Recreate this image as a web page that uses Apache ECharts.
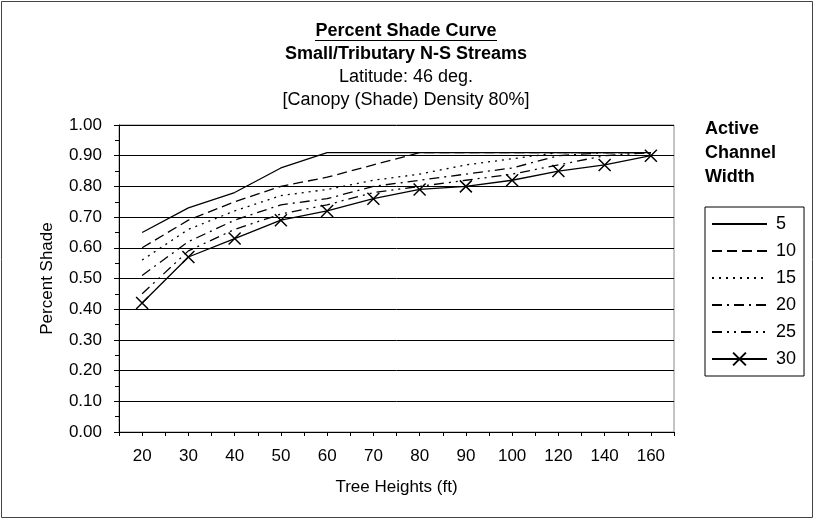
<!DOCTYPE html>
<html>
<head>
<meta charset="utf-8">
<script src="https://cdn.jsdelivr.net/npm/echarts@6/dist/echarts.min.js"></script>
<style>
html,body{margin:0;padding:0;background:#fff;}
#chart{width:815px;height:521px;}
</style>
</head>
<body>
<div id="chart"></div>
<script>
var categories = ['20','30','40','50','60','70','80','90','100','120','140','160'];
var seriesNames = ['5','10','15','20','25','30'];
var w5  = [0.65,0.73,0.78,0.86,0.91,0.91,0.91,0.91,0.91,0.91,0.91,0.91];
var w10 = [0.60,0.69,0.75,0.80,0.83,0.87,0.91,0.91,0.91,0.91,0.91,0.91];
var w15 = [0.56,0.66,0.72,0.77,0.79,0.82,0.84,0.87,0.89,0.91,0.91,0.91];
var w20 = [0.51,0.62,0.69,0.74,0.76,0.80,0.82,0.84,0.86,0.90,0.91,0.91];
var w25 = [0.45,0.59,0.66,0.71,0.74,0.78,0.80,0.82,0.84,0.87,0.90,0.91];
var w30 = [0.42,0.57,0.63,0.69,0.72,0.76,0.79,0.80,0.82,0.85,0.87,0.90];
var titleLines = ['Percent Shade Curve','Small/Tributary N-S Streams','Latitude: 46 deg.','[Canopy (Shade) Density 80%]'];
var legendTitle = 'Active\nChannel\nWidth';
var yAxisName = 'Percent Shade';
var xAxisName = 'Tree Heights (ft)';

var FONT = 'Liberation Sans, Arial, sans-serif';
var dashes = ['solid',[10,5],[2,5],[10,5,2,5],[10,5,2,5,2,5],'solid'];
var allData = [w5,w10,w15,w20,w25,w30];

var series = allData.map(function(d,i){
  var s = {
    name: seriesNames[i],
    type: 'line',
    data: d,
    xAxisIndex: 0,
    yAxisIndex: 0,
    lineStyle: {color:'#000', width:1.3, type: dashes[i]},
    itemStyle: {color:'#000'},
    symbol: 'none',
    animation: false,
    silent: true
  };
  if (i === 5) {
    s.symbol = 'path://M0,0L10,10M10,0L0,10';
    s.symbolSize = 12;
    s.showSymbol = true;
    s.itemStyle = {color:'rgba(0,0,0,0)', borderColor:'#000', borderWidth:1.5};
  }
  return s;
});

var legendData = seriesNames.map(function(n,i){
  var item = {name:n};
  if (i < 5) item.itemStyle = {opacity:0};
  return item;
});

var TITLE_X = 406;
var chart = echarts.init(document.getElementById('chart'), null, {renderer:'canvas'});
chart.setOption({
  backgroundColor:'#fff',
  animation:false,
  textStyle:{fontFamily:FONT},
  title:[
    {text:titleLines[0], left:TITLE_X, top:21, textAlign:'center', padding:0,
     textStyle:{fontFamily:FONT,fontSize:18,fontWeight:'bold',color:'#000',lineHeight:20}},
    {text:titleLines[1], left:TITLE_X, top:44, textAlign:'center', padding:0,
     textStyle:{fontFamily:FONT,fontSize:18,fontWeight:'bold',color:'#000',lineHeight:20}},
    {text:titleLines[2], left:TITLE_X, top:67, textAlign:'center', padding:0,
     textStyle:{fontFamily:FONT,fontSize:18,fontWeight:'normal',color:'#000',lineHeight:20}},
    {text:titleLines[3], left:TITLE_X, top:90, textAlign:'center', padding:0,
     textStyle:{fontFamily:FONT,fontSize:18,fontWeight:'normal',color:'#000',lineHeight:20}},
    {text:legendTitle, left:705, top:117, padding:0,
     textStyle:{fontFamily:FONT,fontSize:18,fontWeight:'bold',color:'#000',lineHeight:24}}
  ],
  graphic:[
    {type:'rect', shape:{x:1.5,y:1.5,width:811,height:516}, style:{fill:'none',stroke:'#444',lineWidth:1}, silent:true, z:-1},
    {type:'line', shape:{x1:315,y1:40.5,x2:497,y2:40.5}, style:{stroke:'#000',lineWidth:1.2}, silent:true}
  ],
  legend:{
    orient:'vertical',
    left:705, top:207,
    padding:[8,8,8,6],
    itemWidth:55, itemHeight:16, itemGap:9,
    borderColor:'#000', borderWidth:1,
    data: legendData,
    textStyle:{fontFamily:FONT,fontSize:18,color:'#000',lineHeight:16,padding:[0,0,0,4]},
    selectedMode:false
  },
  grid:{left:119, right:141, top:125, bottom:89, show:true, borderColor:'#888', borderWidth:1, backgroundColor:'transparent'},
  xAxis:[
    {type:'category', data:categories, boundaryGap:true,
     name:xAxisName, nameLocation:'middle', nameGap:47,
     nameTextStyle:{fontFamily:FONT,fontSize:17,color:'#000'},
     axisLine:{show:true,lineStyle:{color:'#000',width:1}},
     axisTick:{show:false},
     axisLabel:{fontFamily:FONT,fontSize:17,color:'#000',margin:16,interval:0},
     splitLine:{show:false}},
    {type:'value', min:0, max:24, interval:1, position:'bottom',
     axisLine:{show:false},
     axisTick:{show:true,length:4,lineStyle:{color:'#000',width:1}},
     axisLabel:{show:false}, splitLine:{show:false}}
  ],
  yAxis:{
    type:'value', min:0, max:1, interval:0.1,
    name:yAxisName, nameLocation:'middle', nameGap:63, nameRotate:90,
    nameTextStyle:{fontFamily:FONT,fontSize:17,color:'#000'},
    axisLine:{show:true,lineStyle:{color:'#000',width:1}},
    axisTick:{show:true,length:5,lineStyle:{color:'#000'}},
    minorTick:{show:true,splitNumber:2,length:4,lineStyle:{color:'#000'}},
    axisLabel:{fontFamily:FONT,fontSize:17,color:'#000',margin:17,
      formatter:function(v){return v.toFixed(2);}},
    splitLine:{show:true,lineStyle:{color:'#000',width:1}}
  },
  series: series
});
</script>
</body>
</html>
